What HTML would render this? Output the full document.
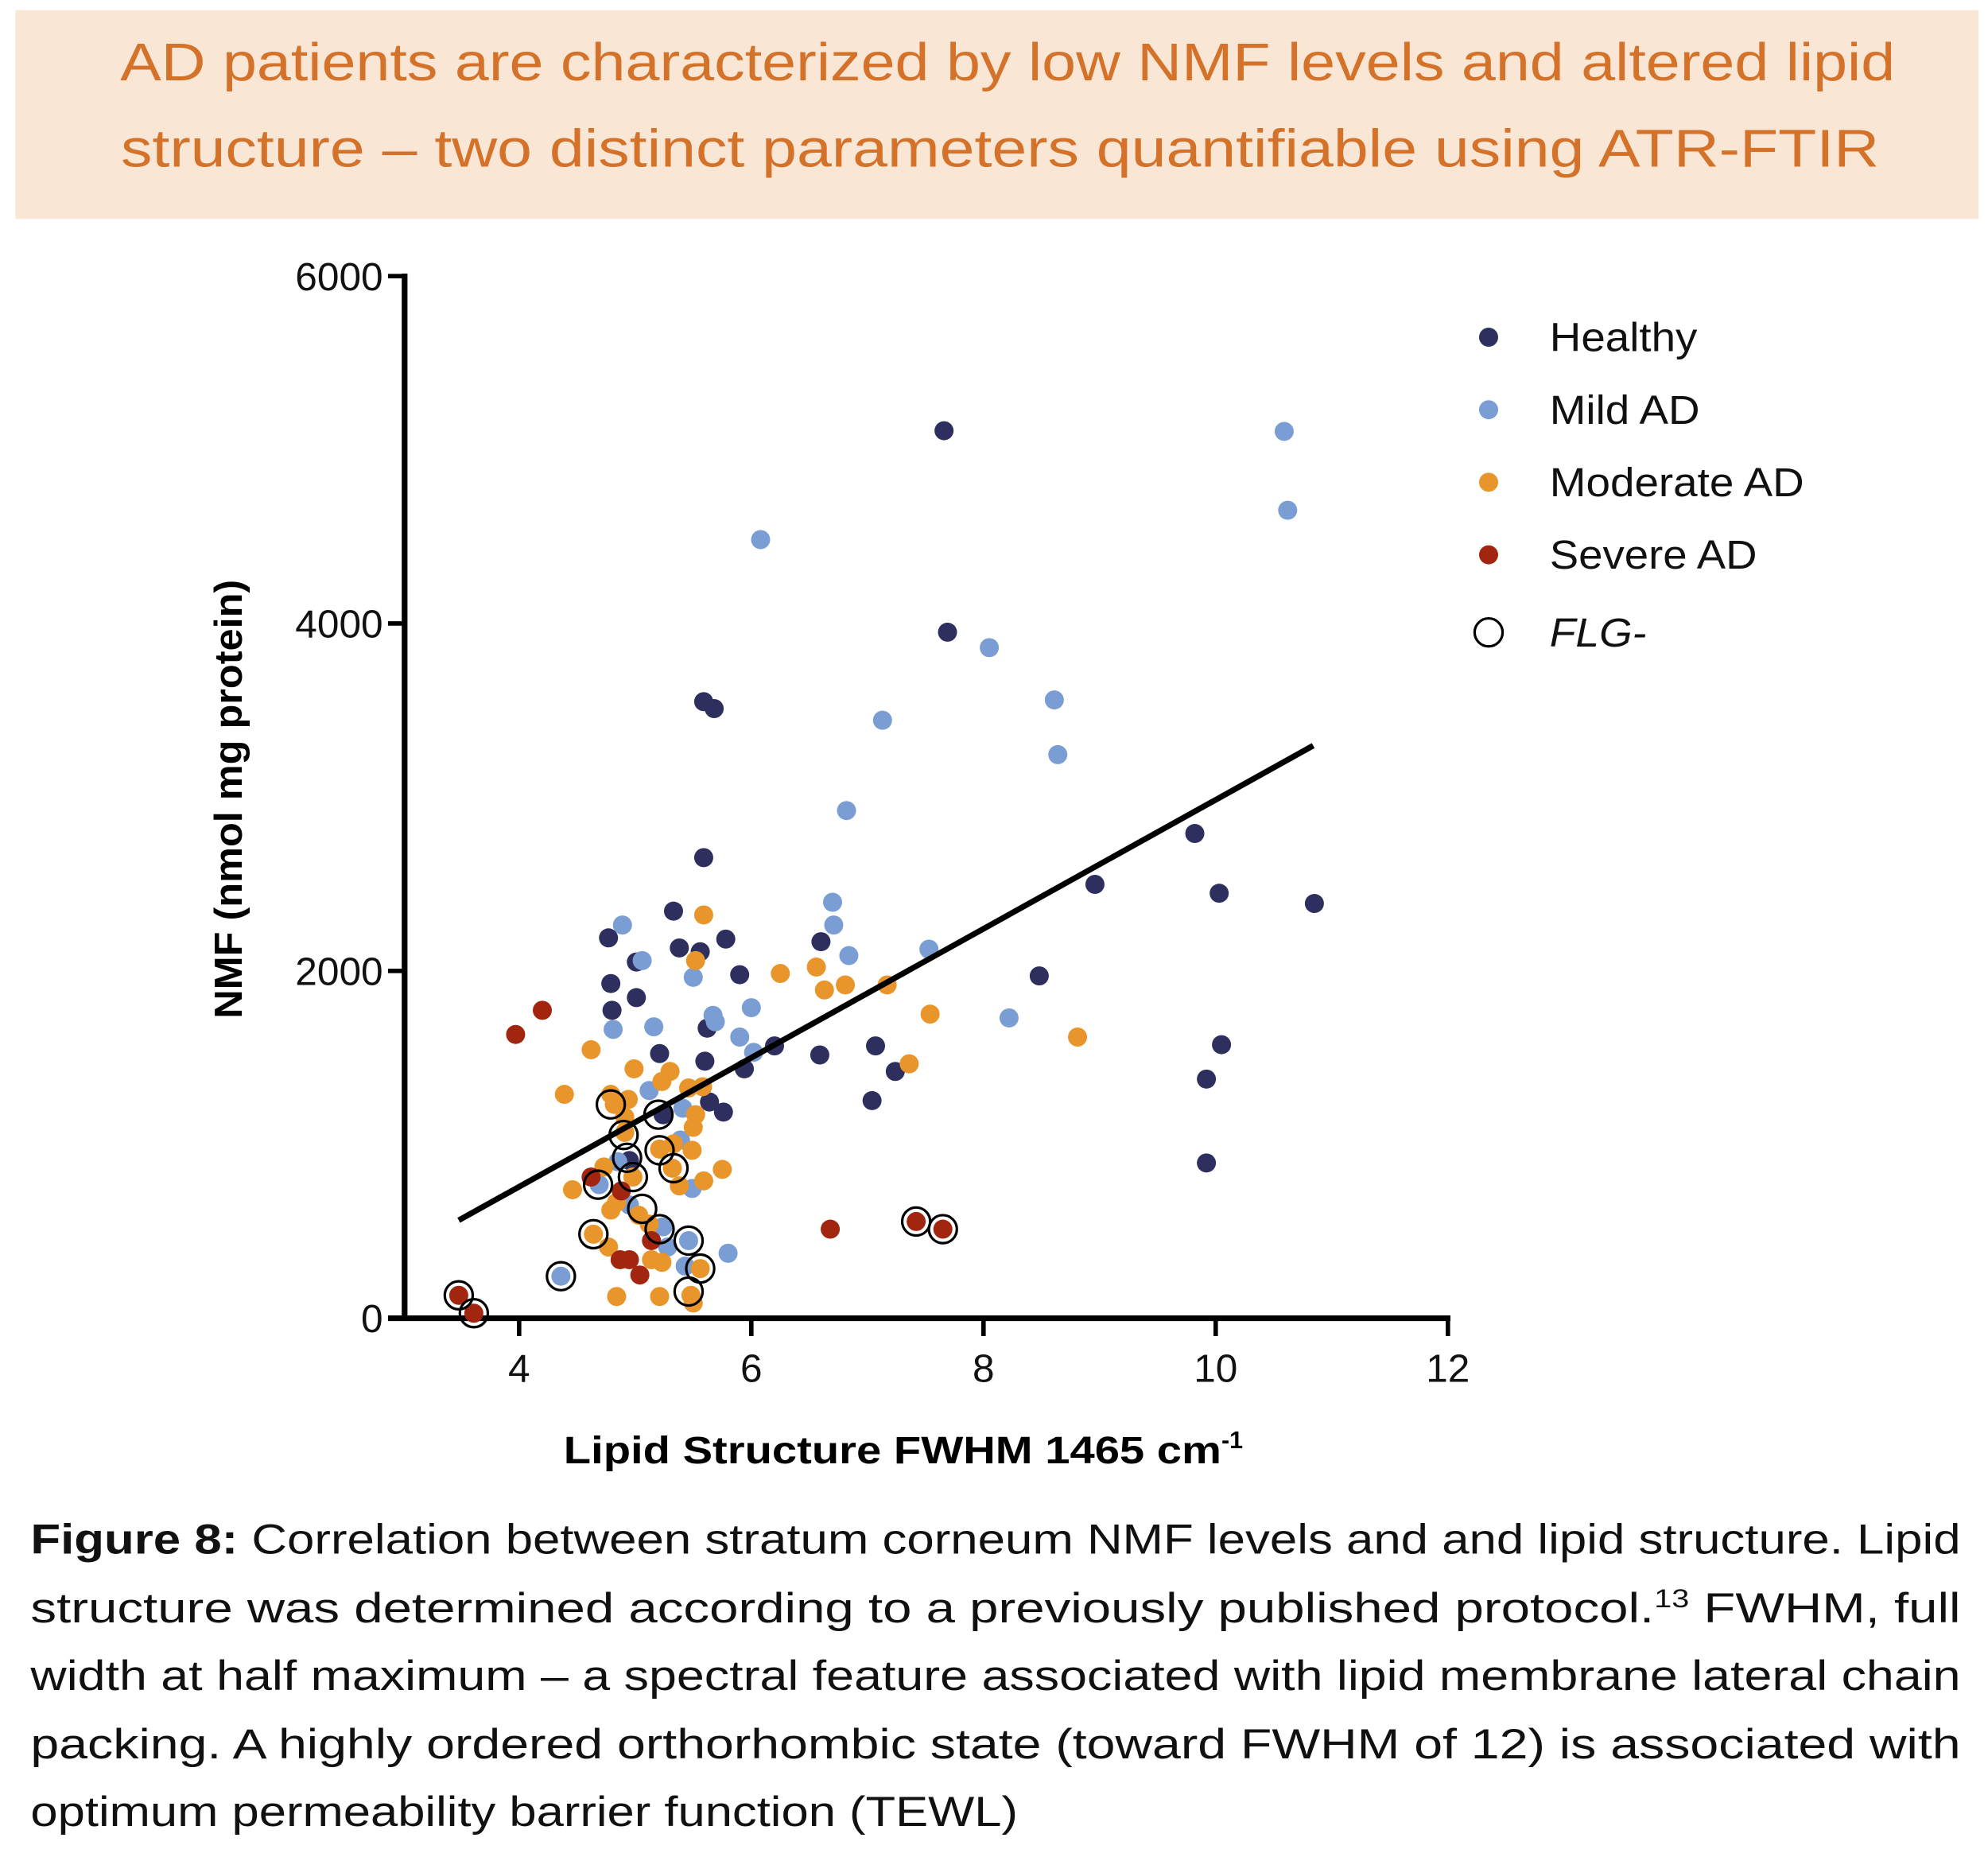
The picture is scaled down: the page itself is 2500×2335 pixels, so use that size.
<!DOCTYPE html>
<html><head><meta charset="utf-8">
<style>
html,body{margin:0;padding:0;background:#fff;}
svg{display:block;font-family:"Liberation Sans",Arial,sans-serif;}
</style></head>
<body>
<svg id="chart" width="2500" height="2335" viewBox="0 0 1562.5 1459.4" xmlns="http://www.w3.org/2000/svg">
<rect x="12" y="8" width="1543" height="164" fill="#f9e6d5"/>
<text x="792" y="63" text-anchor="middle" font-size="42" fill="#d4722a" textLength="1395" lengthAdjust="spacingAndGlyphs">AD patients are characterized by low NMF levels and altered lipid</text>
<text x="786" y="131" text-anchor="middle" font-size="42" fill="#d4722a" textLength="1382" lengthAdjust="spacingAndGlyphs">structure – two distinct parameters quantifiable using ATR-FTIR</text>
<g id="plot"></g>
<g font-size="33" fill="#111">
<text x="24" y="1221" textLength="1517" lengthAdjust="spacingAndGlyphs"><tspan font-weight="bold">Figure 8:</tspan> Correlation between stratum corneum NMF levels and and lipid structure. Lipid</text>
<text x="24" y="1275" textLength="1517" lengthAdjust="spacingAndGlyphs">structure was determined according to a previously published protocol.<tspan font-size="20" dy="-12">13</tspan><tspan dy="12"> FWHM, full</tspan></text>
<text x="24" y="1328" textLength="1517" lengthAdjust="spacingAndGlyphs">width at half maximum – a spectral feature associated with lipid membrane lateral chain</text>
<text x="24" y="1382" textLength="1517" lengthAdjust="spacingAndGlyphs">packing. A highly ordered orthorhombic state (toward FWHM of 12) is associated with</text>
<text x="24" y="1435" textLength="776" lengthAdjust="spacingAndGlyphs">optimum permeability barrier function (TEWL)</text>
</g>
</svg>
<script>
const xTicks=[4,6,8,10,12];
const yTicks=[0,2000,4000,6000];
const healthyX=[7.66,7.69,5.59,5.68,5.59,9.82,8.96,10.03,10.85,5.33,4.77,5.38,5.56,5.78,6.60,5.01,5.90,8.48,4.79,5.01,4.80,5.62,6.20,10.05,5.21,6.59,7.07,5.60,7.24,5.94,9.92,7.04,5.64,5.76,5.24,9.92,4.95];
const healthyY=[5110,3950,3550,3510,2652,2791,2498,2447,2388,2344,2190,2132,2110,2183,2168,2051,1978,1971,1927,1846,1773,1670,1568,1575,1524,1516,1568,1480,1421,1436,1377,1253,1245,1187,1172,894,908];
const mildX=[10.59,10.62,6.08,8.05,8.61,7.13,8.64,6.82,6.70,6.71,4.89,6.84,7.53,5.06,5.50,5.67,6.00,4.81,5.16,5.69,8.22,5.90,6.02,5.12,5.41,5.39,4.85,4.69,5.49,4.95,5.24,5.80,5.28,5.46,5.43,4.36];
const mildY=[5106,4652,4483,3861,3560,3443,3245,2923,2395,2264,2264,2088,2125,2059,1963,1744,1788,1663,1678,1707,1729,1619,1531,1311,1209,1026,901,769,747,652,527,374,410,447,300,242];
const moderateX=[5.59,5.52,6.25,6.56,6.63,6.81,7.17,7.54,8.81,4.62,7.36,4.99,4.39,4.79,5.30,5.23,5.46,5.58,4.94,4.82,4.91,5.52,4.91,5.50,5.33,5.49,5.21,5.32,5.75,4.73,4.98,5.59,5.38,4.46,4.84,4.79,5.03,5.12,4.64,4.77,5.14,5.23,5.56,4.84,5.21,5.48,5.50];
const moderateY=[2322,2059,1985,2022,1890,1919,1919,1751,1619,1546,1465,1436,1289,1289,1421,1363,1326,1333,1260,1231,1158,1172,1070,1099,1004,967,974,864,857,871,813,791,762,740,667,623,593,542,484,410,337,322,286,125,125,132,88];
const severeX=[4.20,3.97,6.68,7.42,7.65,4.62,4.88,5.14,4.87,4.95,5.04,3.48,3.61];
const severeY=[1773,1634,513,557,513,813,733,447,337,337,249,132,29];
const flgX=[3.48,3.61,4.36,4.64,4.79,4.90,4.93,4.98,4.68,5.06,5.21,5.20,5.33,5.21,5.46,5.56,5.46,7.42,7.65];
const flgY=[132,29,242,484,1231,1055,924,813,769,630,513,1172,864,967,447,286,154,557,513];
const fitSlope=371.3, fitIntercept=-728, fitXStart=3.48, fitXEnd=10.84;
const legendLabels=['Healthy','Mild AD','Moderate AD','Severe AD','FLG-'];
const colors={healthy:'#2f2f5f',mild:'#7a9ed3',moderate:'#e8962b',severe:'#a2260f'};

const NS='http://www.w3.org/2000/svg';
const plot=document.getElementById('plot');
const sx=v=>408+(v-4)*91.25;
const sy=v=>1036-v*273/2000;
function mk(tag,attrs){const e=document.createElementNS(NS,tag);for(const k in attrs)e.setAttribute(k,attrs[k]);plot.appendChild(e);return e;}

let e;
e=mk('line',{x1:318,y1:sy(6000)-2,x2:318,y2:1038,stroke:'#000','stroke-width':4.5});


e=mk('line',{x1:305,y1:1036,x2:1140,y2:1036,stroke:'#000','stroke-width':4.5});


yTicks.forEach(t=>{
  e=mk('line',{x1:305,y1:sy(t),x2:318,y2:sy(t),stroke:'#000','stroke-width':3.5});
  
  
  e=mk('text',{x:301,y:sy(t)+11,'text-anchor':'end','font-size':31,fill:'#111'});e.textContent=t;
  
  
});
xTicks.forEach(t=>{
  e=mk('line',{x1:sx(t),y1:1036,x2:sx(t),y2:1050,stroke:'#000','stroke-width':3.5});
  
  
  e=mk('text',{x:sx(t),y:1086,'text-anchor':'middle','font-size':31,fill:'#111'});e.textContent=t;
  
  
});
e=mk('text',{x:0,y:0,transform:'translate(190,628) rotate(-90)','text-anchor':'middle','font-size':31,'font-weight':'bold',fill:'#000',textLength:345,lengthAdjust:'spacingAndGlyphs'});
e.textContent='NMF (nmol mg protein)';


e=mk('text',{x:443,y:1150,'font-size':30,'font-weight':'bold',fill:'#000'});
e.innerHTML='<tspan textLength="517" lengthAdjust="spacingAndGlyphs">Lipid Structure FWHM 1465 cm</tspan><tspan font-size="19" dy="-12">-1</tspan>';



function series(xs,ys,col,name){xs.forEach((x,i)=>{
  e=mk('circle',{cx:sx(x),cy:sy(ys[i]),r:7.5,fill:col});
  
  
});}
series(healthyX,healthyY,colors.healthy,'healthy-point');
series(mildX,mildY,colors.mild,'mild-ad-point');
series(moderateX,moderateY,colors.moderate,'moderate-ad-point');
series(severeX,severeY,colors.severe,'severe-ad-point');
flgX.forEach((x,i)=>{
  e=mk('circle',{cx:sx(x),cy:sy(flgY[i]),r:11,fill:'none',stroke:'#000','stroke-width':2});
  
  
});
e=mk('line',{x1:sx(fitXStart),y1:sy(fitSlope*fitXStart+fitIntercept),x2:sx(fitXEnd),y2:sy(fitSlope*fitXEnd+fitIntercept),stroke:'#000','stroke-width':4.5});



const legCols=[colors.healthy,colors.mild,colors.moderate,colors.severe,null];
const legY=[265,322,379,436,497];
const legW=[116,118,200,163,76];
legendLabels.forEach((lab,i)=>{
  if(legCols[i]){e=mk('circle',{cx:1170,cy:legY[i],r:7.5,fill:legCols[i]});}
  else{e=mk('circle',{cx:1170,cy:legY[i],r:11,fill:'none',stroke:'#000','stroke-width':2});}
  
  
  e=mk('text',{x:1218,y:legY[i]+11,'font-size':32,fill:'#111',textLength:legW[i],lengthAdjust:'spacingAndGlyphs'});
  if(i===4)e.setAttribute('font-style','italic');
  e.textContent=lab;
  
  
});
</script>
</body></html>
